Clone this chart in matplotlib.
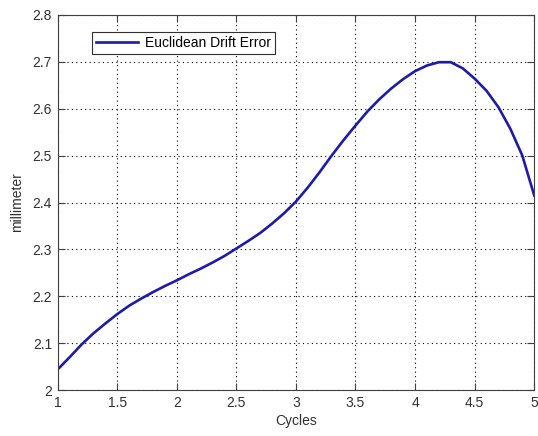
import numpy as np
import matplotlib
matplotlib.use('Agg')
import matplotlib.pyplot as plt

plt.rcParams['font.family'] = ['Liberation Sans', 'DejaVu Sans']

# values (cycles vs drift error in mm)
cycles = [1.0, 1.1, 1.2, 1.3, 1.4, 1.5, 1.6, 1.7, 1.8, 1.9,
          2.0, 2.1, 2.2, 2.3, 2.4, 2.5, 2.6, 2.7, 2.8, 2.9,
          3.0, 3.1, 3.2, 3.3, 3.4, 3.5, 3.6, 3.7, 3.8, 3.9,
          4.0, 4.1, 4.2, 4.3, 4.4, 4.5, 4.6, 4.7, 4.8, 4.9, 5.0]
drift = [2.044, 2.070, 2.097, 2.121, 2.142, 2.162, 2.180, 2.195, 2.209, 2.222,
         2.234, 2.247, 2.259, 2.272, 2.286, 2.302, 2.318, 2.335, 2.355, 2.377,
         2.402, 2.432, 2.465, 2.500, 2.533, 2.564, 2.594, 2.620, 2.643, 2.663,
         2.680, 2.692, 2.699, 2.699, 2.686, 2.664, 2.638, 2.603, 2.557, 2.500, 2.415]
xticks = [1, 1.5, 2, 2.5, 3, 3.5, 4, 4.5, 5]
xticklabels = ['1', '1.5', '2', '2.5', '3', '3.5', '4', '4.5', '5']
yticks = [2, 2.1, 2.2, 2.3, 2.4, 2.5, 2.6, 2.7, 2.8]
yticklabels = ['2', '2.1', '2.2', '2.3', '2.4', '2.5', '2.6', '2.7', '2.8']

fig = plt.figure(figsize=(5.38, 4.36), dpi=100)
ax = fig.add_axes([0.107, 0.105, 0.886, 0.861])
ax.plot(cycles, drift, color='#1c1ca8', lw=1.9, label='Euclidean Drift Error')
ax.set_xlim(1, 5)
ax.set_ylim(2, 2.8)
ax.set_xticks(xticks)
ax.set_xticklabels(xticklabels)
ax.set_yticks(yticks)
ax.set_yticklabels(yticklabels)
ax.grid(True, color='black', linestyle=(0, (1, 3)), lw=0.8)
ax.tick_params(direction='in', top=True, right=True, length=5, labelsize=10,
               color='#404040', labelcolor='#303030', pad=4)
for s in ax.spines.values():
    s.set_color('#404040')
ax.set_xlabel('Cycles', fontsize=10, color='#303030', labelpad=3)
ax.set_ylabel('millimeter', fontsize=10, color='#303030', labelpad=6)
leg = ax.legend(loc='upper left', bbox_to_anchor=(0.072, 0.955), fontsize=10,
                fancybox=False, framealpha=1, edgecolor='#303030',
                handlelength=3, borderpad=0.3, handletextpad=0.5, borderaxespad=0)
leg.get_frame().set_linewidth(0.8)

fig.savefig('out.png', dpi=100)
